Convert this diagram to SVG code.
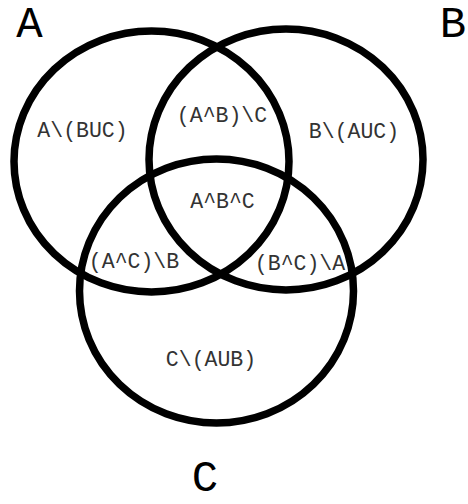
<svg xmlns="http://www.w3.org/2000/svg" width="468" height="504" viewBox="0 0 468 504">
<style>
.set{fill:none;stroke:#000;stroke-width:7.5}
.lbl{font-family:"Liberation Mono","Courier New",monospace;font-size:21.5px;fill:#333;text-anchor:middle}
.big{font-family:"Liberation Mono","Courier New",monospace;font-size:44px;fill:#000;text-anchor:middle}
</style>
<rect width="468" height="504" fill="#fff"/>
<g id="connectors"></g>
<g id="setA"><ellipse class="set" cx="151.5" cy="161.5" rx="137.5" ry="130.5"/><text class="big" x="29.5" y="37">A</text></g>
<g id="setB"><ellipse class="set" cx="286" cy="159.5" rx="137" ry="130.5"/><text class="big" x="453" y="37">B</text></g>
<g id="setC"><ellipse class="set" cx="216.5" cy="291" rx="137" ry="132"/><text class="big" x="205" y="491">C</text></g>
<g id="regions">
<text class="lbl" x="82.5" y="137">A\(BUC)</text>
<text class="lbl" x="354" y="138">B\(AUC)</text>
<text class="lbl" x="222" y="122">(A^B)\C</text>
<text class="lbl" x="222.5" y="208">A^B^C</text>
<text class="lbl" x="134" y="268">(A^C)\B</text>
<text class="lbl" x="300" y="270">(B^C)\A</text>
<text class="lbl" x="211" y="366">C\(AUB)</text>
</g>
</svg>
